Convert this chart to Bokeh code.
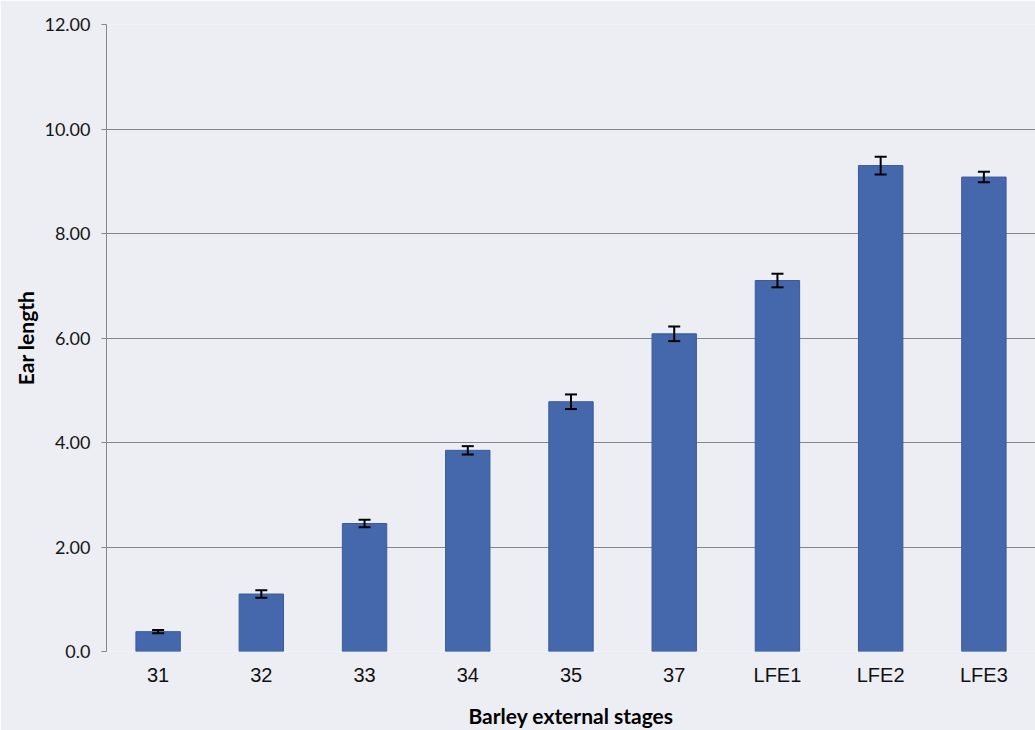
from bokeh.plotting import figure
from bokeh.models import ColumnDataSource, Whisker, TeeHead, NumeralTickFormatter, FixedTicker
from bokeh.embed import file_html
from bokeh.resources import INLINE

# Barley ear length by external developmental stage (mean ± error)
stages = ["31", "32", "33", "34", "35", "37", "LFE1", "LFE2", "LFE3"]
ear_length = [0.38, 1.10, 2.45, 3.85, 4.78, 6.08, 7.10, 9.30, 9.08]
ear_error = [0.03, 0.07, 0.07, 0.08, 0.14, 0.14, 0.13, 0.17, 0.10]
y_ticks = [0, 2, 4, 6, 8, 10, 12]
grid_ticks = [2, 4, 6, 8, 10, 12]

bg = "#eceef4"
bar_color = "#4468ab"
grid_color = "#84868c"

src = ColumnDataSource(dict(
    stage=stages,
    length=ear_length,
    upper=[v + e for v, e in zip(ear_length, ear_error)],
    lower=[v - e for v, e in zip(ear_length, ear_error)],
))

p = figure(
    x_range=stages, y_range=(0, 12),
    width=1035, height=730,
    output_backend="svg", toolbar_location=None,
    min_border_left=106, min_border_right=0,
    min_border_top=24, min_border_bottom=68,
    background_fill_color=bg, border_fill_color=bg,
)
p.outline_line_color = None

p.vbar(x="stage", top="length", width=0.43, source=src,
       fill_color=bar_color, line_color="#3a5b9a", line_width=1)

whisker = Whisker(base="stage", upper="upper", lower="lower", source=src,
                  level="overlay", line_color="black", line_width=2,
                  upper_head=TeeHead(size=12, line_color="black", line_width=2),
                  lower_head=TeeHead(size=12, line_color="black", line_width=2))
p.add_layout(whisker)

# y axis
p.yaxis.ticker = FixedTicker(ticks=y_ticks)
p.yaxis.formatter = NumeralTickFormatter(format="0.00")
p.yaxis.major_label_overrides = {0: "0.0"}
p.yaxis.axis_line_color = grid_color
p.yaxis.major_tick_line_color = grid_color
p.yaxis.major_tick_in = 0
p.yaxis.major_tick_out = 5
p.yaxis.minor_tick_line_color = None
p.yaxis.major_label_text_font = "Lato"
p.yaxis.major_label_text_font_size = "18px"
p.yaxis.major_label_text_color = "#151515"
p.yaxis.major_label_standoff = 11
p.yaxis.axis_label = "Ear length"
p.yaxis.axis_label_text_font = "Lato"
p.yaxis.axis_label_text_font_style = "bold"
p.yaxis.axis_label_text_font_size = "21px"
p.yaxis.axis_label_text_color = "black"
p.yaxis.axis_label_standoff = 3

# x axis
p.xaxis.axis_line_color = None
p.xaxis.major_tick_line_color = None
p.xaxis.minor_tick_line_color = None
p.xaxis.major_label_text_font = "Liberation Sans"
p.xaxis.major_label_text_font_size = "20px"
p.xaxis.major_label_text_color = "#111111"
p.xaxis.major_label_standoff = 6
p.xaxis.axis_label = "Barley external stages"
p.xaxis.axis_label_text_font = "Lato"
p.xaxis.axis_label_text_font_style = "bold"
p.xaxis.axis_label_text_font_size = "21px"
p.xaxis.axis_label_text_color = "black"
p.xaxis.axis_label_standoff = 14

p.xgrid.grid_line_color = None
p.ygrid.ticker = FixedTicker(ticks=grid_ticks)
p.ygrid.grid_line_color = grid_color
p.ygrid.grid_line_width = 1

open("out.html", "w").write(file_html(p, INLINE))
